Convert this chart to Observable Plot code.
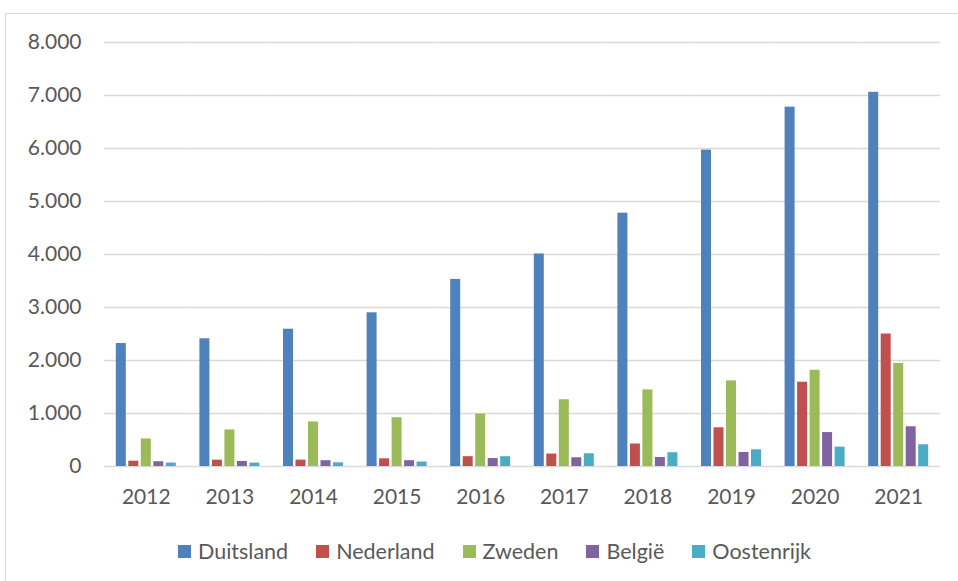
<!DOCTYPE html>
<html>
<head>
<meta charset="utf-8">
<script src="https://cdn.jsdelivr.net/npm/d3@7"></script>
<script src="https://cdn.jsdelivr.net/npm/@observablehq/plot@0.6"></script>
<style>
  html, body { margin: 0; padding: 0; background: #fff; }
  body { width: 958px; height: 581px; position: relative; overflow: hidden; font-family: Lato, "Open Sans", sans-serif; }
  #frame { position: absolute; left: 5px; top: 13px; width: 1000px; height: 700px; border-top: 1px solid #d9d9d9; border-left: 1px solid #d9d9d9; }
  #chart { position: absolute; left: 0; top: 0; }
  #legend { position: absolute; left: 178px; top: 538px; display: flex; align-items: center; color: #595959; font-size: 21.5px; white-space: nowrap; }
  .item { display: flex; align-items: center; margin-right: 28px; }
  .sw { width: 13px; height: 13px; margin-right: 7px; }
</style>
</head>
<body>
<div id="frame"></div>
<div id="chart"></div>
<div id="legend"></div>
<script>
const years = [2012, 2013, 2014, 2015, 2016, 2017, 2018, 2019, 2020, 2021];
const countries = ["Duitsland", "Nederland", "Zweden", "België", "Oostenrijk"];
const colors = ["#4F81BD", "#C0504D", "#9BBB59", "#8064A2", "#4BACC6"];
const duitsland = [2320, 2410, 2590, 2900, 3530, 4010, 4780, 5970, 6780, 7060];
const nederland = [100, 120, 120, 145, 185, 235, 425, 730, 1590, 2500];
const zweden = [520, 690, 840, 920, 990, 1260, 1445, 1615, 1815, 1945];
const belgie = [90, 95, 110, 110, 150, 165, 170, 265, 640, 750];
const oostenrijk = [65, 65, 70, 85, 185, 240, 260, 315, 365, 410];
const yTicks = [0, 1000, 2000, 3000, 4000, 5000, 6000, 7000, 8000];

const series = [duitsland, nederland, zweden, belgie, oostenrijk];
const data = [];
years.forEach((yr, i) => {
  countries.forEach((c, j) => data.push({year: yr, country: c, value: series[j][i]}));
});

const fmt = d3.formatLocale({decimal: ",", thousands: ".", grouping: [3], currency: ["€", ""]}).format(",.0f");

const chart = Plot.plot({
  width: 958,
  height: 515,
  marginLeft: 104,
  marginRight: 18,
  marginTop: 42,
  marginBottom: 49,
  style: {fontFamily: "Lato, 'Open Sans', sans-serif", color: "#595959", background: "transparent"},
  fx: {domain: years, padding: 0, round: false, label: null},
  x: {domain: countries, paddingInner: 0.2, paddingOuter: 0.944, round: false, axis: null},
  y: {domain: [0, 8000], label: null},
  color: {domain: countries, range: colors},
  marks: [
    Plot.ruleY(yTicks, {stroke: "#d9d9d9", strokeWidth: 1.5}),
    Plot.barY(data, {fx: "year", x: "country", y: "value", fill: "country"}),
    Plot.axisY({ticks: yTicks, tickSize: 0, tickPadding: 23, tickFormat: fmt, fontSize: 21, label: null}),
    Plot.axisFx({anchor: "bottom", tickSize: 0, tickPadding: 23, fontSize: 21, label: null, tickFormat: d => String(d)})
  ]
});
document.getElementById("chart").appendChild(chart);

const legend = document.getElementById("legend");
countries.forEach((c, i) => {
  const item = document.createElement("div");
  item.className = "item";
  const sw = document.createElement("span");
  sw.className = "sw";
  sw.style.background = colors[i];
  const t = document.createElement("span");
  t.textContent = c;
  item.appendChild(sw);
  item.appendChild(t);
  legend.appendChild(item);
});
</script>
</body>
</html>
